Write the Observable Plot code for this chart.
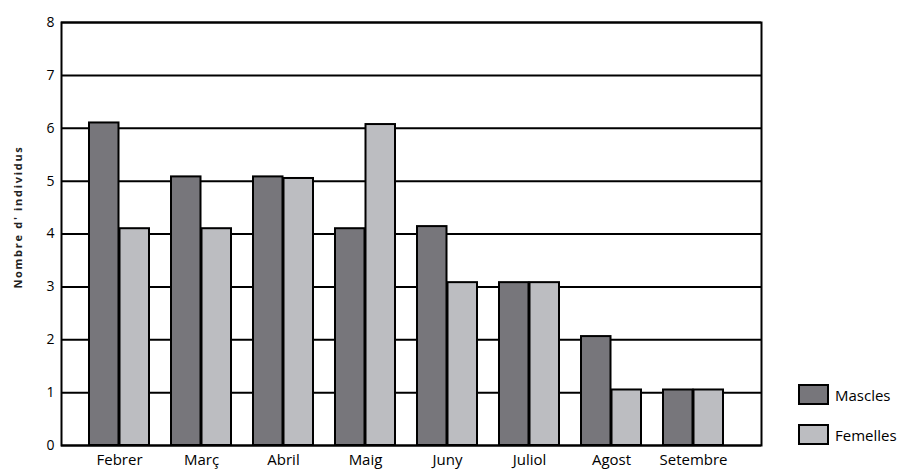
<!DOCTYPE html>
<html>
<head>
<meta charset="utf-8">
<script src="https://cdn.jsdelivr.net/npm/d3@7"></script>
<script src="https://cdn.jsdelivr.net/npm/@observablehq/plot@0.6"></script>
<style>
  html, body { margin: 0; padding: 0; background: #fff; }
  #wrap { position: relative; width: 900px; height: 470px; font-family: "Open Sans", sans-serif; }
  .leg { position: absolute; left: 798px; display: flex; align-items: center; font-size: 15px; color: #000; }
  .sw { width: 27px; height: 17px; border: 2px solid #000; margin-right: 6px; }
</style>
</head>
<body>
<div id="wrap"></div>
<script>
const months = ["Febrer", "Març", "Abril", "Maig", "Juny", "Juliol", "Agost", "Setembre"];
const mascles = [6.1, 5.08, 5.08, 4.1, 4.14, 3.08, 2.06, 1.05];
const femelles = [4.1, 4.1, 5.05, 6.07, 3.08, 3.08, 1.05, 1.05];
const yTicks = [0, 1, 2, 3, 4, 5, 6, 7, 8];
const series = ["Mascles", "Femelles"];
const colors = ["#77767b", "#bcbdc1"];
const yLabel = "Nombre d' individus";

const dataM = months.map((m, i) => ({month: m, value: mascles[i]}));
const dataF = months.map((m, i) => ({month: m, value: femelles[i]}));

const chart = Plot.plot({
  width: 900,
  height: 470,
  marginLeft: 61,
  marginRight: 139,
  marginTop: 22,
  marginBottom: 25,
  style: {fontFamily: "Open Sans, sans-serif", fontSize: "14px", color: "#000", background: "#fff", overflow: "visible"},
  x: {domain: months, paddingInner: 0.273, paddingOuter: 0.379, align: 0.416, label: null},
  y: {domain: [0, 8], label: null},
  marks: [
    Plot.ruleY(yTicks, {stroke: "#000", strokeWidth: 2}),
    Plot.barY(dataM, {x: "month", y: "value", fill: colors[0], stroke: "#000", strokeWidth: 2, insetRight: 30.5}),
    Plot.barY(dataF, {x: "month", y: "value", fill: colors[1], stroke: "#000", strokeWidth: 2, insetLeft: 30.5}),
    Plot.frame({stroke: "#000", strokeWidth: 2}),
    Plot.axisX({tickSize: 0, tickPadding: 9, fontSize: 15, label: null}),
    Plot.axisY({ticks: yTicks, tickSize: 0, tickPadding: 7, fontSize: 14, label: null}),
    Plot.text([yLabel], {frameAnchor: "left", textAnchor: "middle", dx: -43, dy: -17, rotate: -90, fontSize: 11, fontWeight: "bold", fill: "#222"})
  ]
});
d3.select(chart).selectAll("text").filter(function() { return this.textContent === yLabel; }).style("letter-spacing", "1.7px");
const wrap = document.getElementById("wrap");
wrap.appendChild(chart);
series.forEach((s, i) => {
  const d = document.createElement("div");
  d.className = "leg";
  d.style.top = (384 + i * 40) + "px";
  d.innerHTML = `<div class="sw" style="background:${colors[i]}"></div><span>${s}</span>`;
  wrap.appendChild(d);
});
</script>
</body>
</html>
